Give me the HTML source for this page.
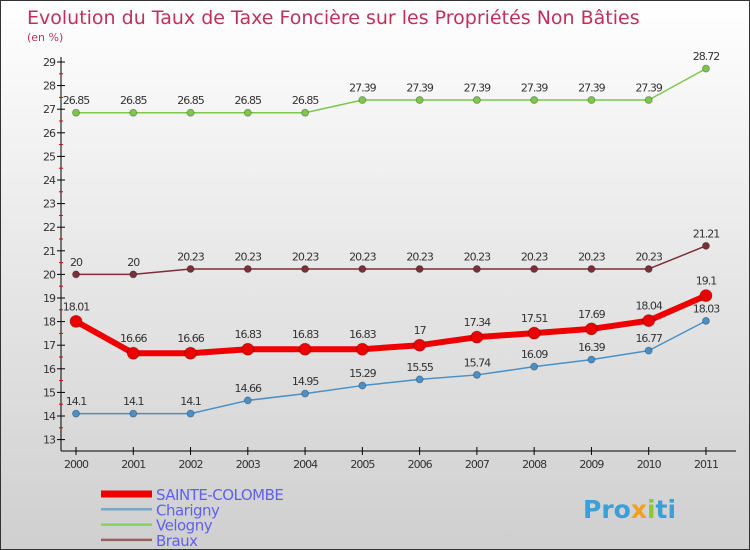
<!DOCTYPE html>
<html><head><meta charset="utf-8"><style>
body{margin:0}
#c{width:750px;height:550px;position:relative;box-sizing:border-box;border:1px solid #333;background:linear-gradient(#ffffff,#f0f0f0 30%,#cfcfcf);font-family:"DejaVu Sans","Liberation Sans",sans-serif;overflow:hidden}
</style></head><body>
<div id="c">
<svg id="s" width="750" height="550" style="position:absolute;left:0;top:0">
<text x="26" y="23" font-size="19" fill="#c0305a">Evolution du Taux de Taxe Foncière sur les Propriétés Non Bâties</text>
<text x="26" y="40" font-size="11" fill="#c0305a">(en %)</text>
</svg>
</div>
<script>
const years=["2000","2001","2002","2003","2004","2005","2006","2007","2008","2009","2010","2011"];
const yTicks=[13,14,15,16,17,18,19,20,21,22,23,24,25,26,27,28,29];
const sainteColombe=[18.01,16.66,16.66,16.83,16.83,16.83,17,17.34,17.51,17.69,18.04,19.1];
const charigny=[14.1,14.1,14.1,14.66,14.95,15.29,15.55,15.74,16.09,16.39,16.77,18.03];
const velogny=[26.85,26.85,26.85,26.85,26.85,27.39,27.39,27.39,27.39,27.39,27.39,28.72];
const braux=[20,20,20.23,20.23,20.23,20.23,20.23,20.23,20.23,20.23,20.23,21.21];
const seriesNames=["SAINTE-COLOMBE","Charigny","Velogny","Braux"];
const s=document.getElementById('s');const NS="http://www.w3.org/2000/svg";
function X(i){return 75+i*57.27;}
function Y(v){return 61+(29-v)*23.6;}
function mk(t,a,p){const e=document.createElementNS(NS,t);for(const k in a)e.setAttribute(k,a[k]);(p||s).appendChild(e);return e;}
let ax=mk('line',{x1:60,y1:56,x2:60,y2:450,stroke:'#000'});


let xa=mk('line',{x1:60,y1:450,x2:735,y2:450,stroke:'#000'});


yTicks.forEach((v,i)=>{
 mk('line',{x1:56,x2:64,y1:Y(v),y2:Y(v),stroke:'#000'});
 if(i<yTicks.length-1)mk('line',{x1:58,x2:62,y1:Y(v+0.5),y2:Y(v+0.5),stroke:'#d00'});
 let t=mk('text',{x:54,y:Y(v)+4,'font-size':11,'text-anchor':'end',fill:'#333','letter-spacing':'-1'});t.textContent=v;
 
 
});
years.forEach((y,i)=>{
 mk('line',{x1:X(i),x2:X(i),y1:446,y2:454,stroke:'#000'});
 let t=mk('text',{x:X(i),y:467,'font-size':11,'text-anchor':'middle',fill:'#333','letter-spacing':'-1'});t.textContent=y;
 
 
});
function series(d,col,w,r,name,lab){
 const g=mk('g',{});
 
 
 mk('polyline',{points:d.map((v,i)=>X(i)+','+Y(v)).join(' '),fill:'none',stroke:col,'stroke-width':w,'stroke-linejoin':'round'},g);
 d.forEach((v,i)=>{
  let c=mk('circle',{cx:X(i),cy:Y(v),r:r,fill:col,stroke:'#0004','stroke-width':1},g);
  
  
  let t=mk('text',{x:X(i),y:Y(v)-(r+5),'font-size':11,'text-anchor':'middle',fill:'#333','letter-spacing':'-1'},g);t.textContent=v;
  
  
 });
}
series(velogny,'#7cc84a',1.5,3.5,'velogny-series');
series(braux,'#7a3038',1.5,3.5,'braux-series');
series(charigny,'#4a90c8',1.5,3.5,'charigny-series');
series(sainteColombe,'#ee0000',6,6,'sainte-colombe-series');
const lc=['#ee0000','#78a8c8','#8ccc70','#9a6060'],lw=[7,2.5,2.5,2.5];
seriesNames.forEach((n,i)=>{
 const y=493+i*15.3;
 let l=mk('line',{x1:100,x2:151,y1:y,y2:y,stroke:lc[i],'stroke-width':lw[i]});
 
 
 let t=mk('text',{x:155,y:y+6,'font-size':15,fill:'#6060ee','letter-spacing':'-0.5'});t.textContent=n;
 
 
});
let lg=mk('text',{x:582,y:517,'font-size':25,'font-weight':'bold',fill:'#3aa0d8'});


lg.innerHTML='Pro<tspan fill="#f0a020">x</tspan><tspan fill="#8cc83c">i</tspan>ti';
</script>
</body></html>
